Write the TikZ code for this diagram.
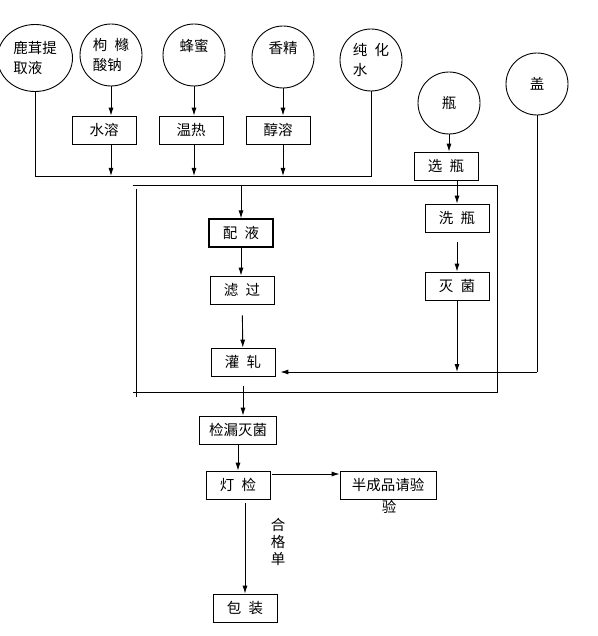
\documentclass[tikz,border=0pt]{standalone}
\usepackage{fontspec}
\setmainfont{Noto Sans CJK SC}
\usetikzlibrary{arrows.meta, positioning, shapes.geometric, calc}

\begin{document}
\begin{tikzpicture}[x=1pt, y=-1pt, line width=0.9pt, >={Latex[length=8pt,width=5pt]},
  font=\fontsize{14.5}{20}\selectfont,
  src/.style={draw, circle, minimum size=62pt, inner sep=0pt, align=left},
  box/.style={draw, line width=0.7pt, minimum width=64pt, minimum height=28pt, inner sep=1pt}]
\useasboundingbox (0,0) rectangle (597,636);
% raw materials
\node[src, ellipse, minimum width=75pt, minimum height=67pt] (lurong) at (35,58) {鹿茸提\\取液};
\node[src] (ningmeng) at (111,55) {枸\enspace 橼\\酸钠};
\node[src] (fengmi) at (194,55) {蜂蜜\\~};
\node[src] (xiangjing) at (283,57) {香精\\~};
\node[src] (chunshui) at (371,60) {纯\enspace 化\\水};
\node[src] (ping) at (449,103) {瓶};
\node[src] (gai) at (537,84) {盖};
% pretreatment
\node[box] (shuirong) at (104,130) {水溶};
\node[box] (wenre) at (191,130) {温热};
\node[box] (chunrong) at (278,130) {醇溶};
\node[box] (xuanping) at (446,166) {选\enspace 瓶};
% workshop frame
\node[minimum width=364pt, minimum height=206pt, inner sep=0pt] (frame) at (315,289) {};
\draw (frame.north west) -- (frame.north east) -- (frame.south east) -- (frame.south west);
\draw ([xshift=4pt,yshift=-3pt]frame.north west) -- ([xshift=4pt,yshift=-5pt]frame.south west);
\node[box, line width=1.2pt] (peiye) at (241,233) {配\enspace 液};
\node[box] (lvguo) at (242,290) {滤\enspace 过};
\node[box] (guanya) at (243,362) {灌\enspace 轧};
\node[box] (xiping) at (457,218) {洗\enspace 瓶};
\node[box] (miejun) at (457,286) {灭\enspace 菌};
% after filling
\node[box, minimum width=77pt] (jianlou) at (238,430) {检漏灭菌};
\node[box] (dengjian) at (238,485) {灯\enspace 检};
\node[box, minimum width=96pt] (qingyan) at (388,485) {半成品请验};
\node[inner sep=0pt] (yan) at (389,507) {验};
\node[box] (baozhuang) at (245,608) {包\enspace 装};
\node[align=center, inner sep=0pt, font=\fontsize{14.5}{17}\selectfont] (hege) at (278,542) {合\\格\\单};

\coordinate (bus) at (0,176);
\coordinate (join) at (gai |- 0,372);
\draw (lurong.south) -- (lurong.south |- bus) -| (chunshui.south);
\draw[->] (ningmeng.south) -- (ningmeng.south |- shuirong.north);
\draw[->] (fengmi.south) -- (fengmi.south |- wenre.north);
\draw[->] (xiangjing.south) -- (xiangjing.south |- chunrong.north);
\draw[->] (shuirong.south -| ningmeng) -- (ningmeng |- bus);
\draw[->] (wenre.south -| fengmi) -- (fengmi |- bus);
\draw[->] (chunrong.south -| xiangjing) -- (xiangjing |- bus);
\draw[->] (ping.south) -- (ping.south |- xuanping.north);
\draw[->] (xuanping.south -| xiping) -- (xiping.north);
\draw[->, shorten <=10pt] (xiping) -- (miejun);
\draw[->] (miejun) -- (miejun |- join);
\draw (gai) -- (join);
\draw[->, shorten >=5pt] (join) -- (join -| guanya.east);
\draw[->] (frame.north -| peiye) -- (peiye);
\draw[->] (peiye) -- (peiye |- lvguo.north);
\draw[->, shorten <=11pt] (lvguo) -- (guanya);
\draw[->, shorten <=10pt] (guanya) -- (guanya |- jianlou.north);
\draw[->] (jianlou) -- (dengjian);
\draw[->, shorten <=2pt] ([yshift=11pt]dengjian.east) -- ([yshift=11pt]qingyan.west);
\draw[->, shorten <=4pt] (dengjian.south -| baozhuang) -- (baozhuang.north);
\end{tikzpicture}
\end{document}
